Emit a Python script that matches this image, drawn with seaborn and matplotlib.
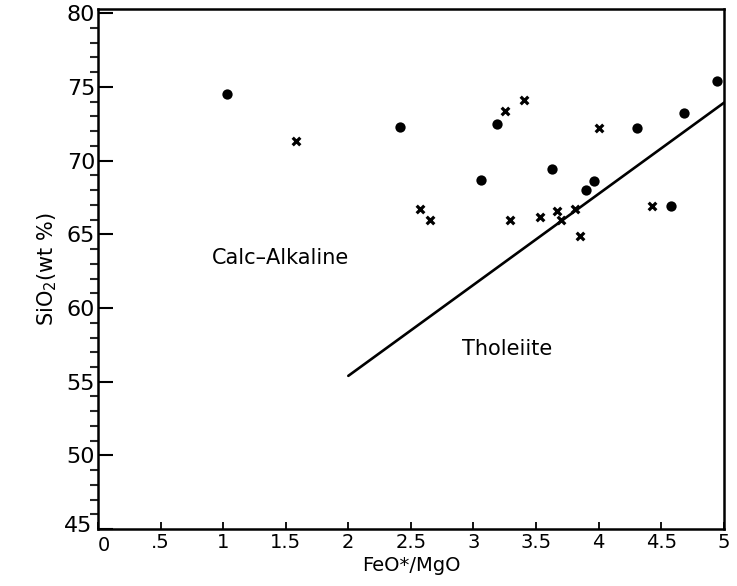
import matplotlib
matplotlib.use("Agg")
import matplotlib.pyplot as plt
import matplotlib.transforms as mtransforms
import seaborn as sns
import pandas as pd
from matplotlib.ticker import MultipleLocator

# Calc-alkaline discrimination data (FeO*/MgO vs SiO2)
circle_x = [1.03, 2.41, 3.19, 3.06, 3.63, 3.96, 3.90, 4.31, 4.68, 4.95, 4.58]
circle_y = [74.5, 72.3, 72.5, 68.7, 69.4, 68.6, 68.0, 72.2, 73.2, 75.4, 66.9]

cross_x = [1.58, 2.57, 2.65, 3.25, 3.40, 4.00, 3.29, 3.53, 3.67, 3.70, 3.81, 3.85, 4.43]
cross_y = [71.35, 66.7, 66.0, 73.4, 74.1, 72.2, 66.0, 66.2, 66.6, 66.0, 66.7, 64.9, 66.9]

boundary_x = [2.0, 5.03]
boundary_y = [55.4, 74.1]

x_ticks = [0, 0.5, 1, 1.5, 2, 2.5, 3, 3.5, 4, 4.5, 5]
x_ticklabels = ["0", ".5", "1", "1.5", "2", "2.5", "3", "3.5", "4", "4.5", "5"]
y_ticks = [45, 50, 55, 60, 65, 70, 75, 80]

sns.set_style("ticks")
plt.rcParams["font.family"] = ["DejaVu Sans"]
plt.rcParams["text.color"] = "black"
plt.rcParams["axes.labelcolor"] = "black"

fig = plt.figure(figsize=(7.37, 5.86), dpi=100)
ax = fig.add_axes([0.133, 0.097, 0.849, 0.888])

df_c = pd.DataFrame({"x": circle_x, "y": circle_y})
df_x = pd.DataFrame({"x": cross_x, "y": cross_y})
df_b = pd.DataFrame({"x": boundary_x, "y": boundary_y})

sns.lineplot(data=df_b, x="x", y="y", color="black", linewidth=1.9, ax=ax)
sns.scatterplot(data=df_c, x="x", y="y", marker="o", s=55, color="black",
                edgecolor="black", linewidth=0, ax=ax, zorder=3)
sns.scatterplot(data=df_x, x="x", y="y", marker="x", s=30, color="black",
                linewidth=2.3, ax=ax, zorder=3)

ax.set_xlim(0, 5)
ax.set_ylim(45, 80.3)
ax.set_xticks(x_ticks)
ax.set_xticklabels(x_ticklabels)
ax.set_yticks(y_ticks)
ax.yaxis.set_minor_locator(MultipleLocator(1))

ax.tick_params(axis="both", direction="in", colors="black")
ax.tick_params(axis="y", which="major", length=11, width=1.5, pad=2, labelsize=16)
ax.tick_params(axis="y", which="minor", length=5.5, width=1.5)
ax.tick_params(axis="x", which="major", length=5, width=1.3, pad=3, labelsize=14)

# nudge the "0" and "45" labels apart so they do not collide at the origin
first_x = ax.get_xticklabels()[0]
first_x.set_transform(first_x.get_transform() +
                      mtransforms.ScaledTranslation(4 / 72, -2 / 72, fig.dpi_scale_trans))
first_y = ax.get_yticklabels()[0]
first_y.set_transform(first_y.get_transform() +
                      mtransforms.ScaledTranslation(-2 / 72, 4 / 72, fig.dpi_scale_trans))

for sp in ax.spines.values():
    sp.set_visible(True)
    sp.set_linewidth(1.8)
    sp.set_color("black")

ax.set_xlabel("FeO*/MgO", fontsize=14, labelpad=1)
ax.set_ylabel("SiO$_2$(wt %)", fontsize=15, labelpad=4)

ax.text(1.46, 63.4, "Calc\u2013Alkaline", fontsize=15, ha="center", va="center")
ax.text(3.27, 57.2, "Tholeiite", fontsize=15, ha="center", va="center")

fig.savefig("out.png", dpi=100, facecolor="white")
